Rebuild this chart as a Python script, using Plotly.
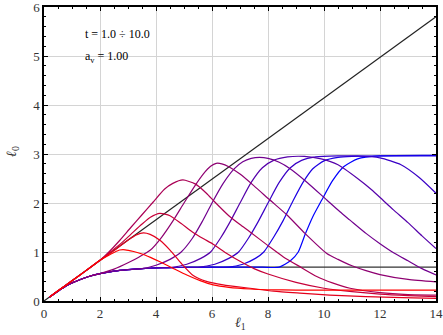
import plotly.graph_objects as go

# ---------------- data ----------------
t_labels = ["t=1", "t=2", "t=3", "t=4", "t=5", "t=6", "t=7", "t=8", "t=9", "t=10"]

# shared lower branch (t = 5..10 follow it before they jump)
lower_x = [0.2, 0.5, 0.8, 1.0, 1.3, 1.6, 2.0, 2.5, 3.0, 3.5, 4.0, 4.5, 5.0, 5.5, 6.0, 6.6, 7.0, 7.8, 8.4]
lower_y = [0.08, 0.20, 0.31, 0.37, 0.44, 0.50, 0.56, 0.61, 0.64, 0.66, 0.675, 0.682, 0.686, 0.688, 0.69, 0.69, 0.69, 0.69, 0.69]

# shared diagonal start (t = 1..4)
diag_x = [0.2, 0.5, 1.0, 1.5, 2.0]
diag_y = [0.083, 0.207, 0.414, 0.62, 0.83]

t1_x = [2.3, 2.5, 2.7, 2.9, 3.2, 3.5, 3.8, 4.14, 4.6, 5.1, 5.6, 6.04, 6.6, 7.36, 8.0, 9.0, 11.0, 14.0]
t1_y = [0.93, 0.99, 1.04, 1.045, 1.01, 0.96, 0.89, 0.80, 0.67, 0.53, 0.41, 0.33, 0.28, 0.245, 0.23, 0.222, 0.22, 0.22]

t2_x = [2.5, 2.8, 3.1, 3.3, 3.55, 3.79, 4.14, 4.5, 4.9, 5.33, 5.8, 6.4, 7.36, 8.2, 9.14, 10.2, 11.5, 12.8, 14.0]
t2_y = [1.03, 1.16, 1.28, 1.35, 1.39, 1.36, 1.24, 1.04, 0.77, 0.52, 0.40, 0.33, 0.26, 0.20, 0.16, 0.12, 0.09, 0.07, 0.055]

t3_x = [2.3, 2.7, 3.1, 3.5, 3.8, 4.14, 4.5, 4.9, 5.3, 5.7, 6.04, 6.5, 7.0, 7.5, 8.0, 9.0, 10.0, 11.0, 12.0, 13.0, 14.0]
t3_y = [0.97, 1.15, 1.36, 1.57, 1.71, 1.79, 1.74, 1.58, 1.41, 1.27, 1.16, 0.98, 0.81, 0.66, 0.55, 0.38, 0.26, 0.19, 0.14, 0.11, 0.09]

t4_x = [2.3, 2.71, 3.1, 3.5, 3.9, 4.3, 4.6, 4.96, 5.4, 5.8, 6.1, 6.6, 7.0, 7.36, 8.0, 8.55, 9.2, 9.74, 10.3, 10.93, 12.0, 13.0, 14.0]
t4_y = [0.99, 1.24, 1.50, 1.76, 2.02, 2.28, 2.40, 2.47, 2.39, 2.20, 2.02, 1.74, 1.56, 1.41, 1.13, 0.90, 0.68, 0.50, 0.37, 0.26, 0.17, 0.13, 0.12]

t5_x = [2.5, 3.0, 3.4, 3.8, 4.2, 4.6, 5.0, 5.4, 5.7, 5.95, 6.15, 6.35, 6.6, 7.0, 7.5, 8.07, 8.67, 9.32, 10.1, 10.5, 11.0, 11.5, 12.0, 13.0, 14.0]
t5_y = [0.65, 0.78, 0.90, 1.04, 1.30, 1.63, 2.00, 2.36, 2.60, 2.75, 2.81, 2.80, 2.74, 2.59, 2.35, 2.06, 1.76, 1.38, 0.97, 0.85, 0.72, 0.62, 0.54, 0.44, 0.39]

t6_x = [4.0, 4.5, 4.9, 5.3, 5.65, 6.0, 6.4, 6.8, 7.1, 7.4, 7.7, 8.0, 8.4, 8.79, 9.4, 10.1, 10.57, 10.93, 11.5, 12.0, 12.5, 13.0, 13.5, 14.0]
t6_y = [0.73, 0.85, 1.00, 1.28, 1.62, 2.00, 2.40, 2.70, 2.84, 2.91, 2.93, 2.91, 2.83, 2.70, 2.42, 2.06, 1.82, 1.65, 1.38, 1.17, 0.98, 0.82, 0.66, 0.53]

t7_x = [5.1, 5.6, 5.95, 6.3, 6.65, 7.0, 7.4, 7.8, 8.2, 8.7, 9.3, 9.9, 10.5, 11.2, 11.7, 12.1, 12.48, 13.0, 13.5, 14.0]
t7_y = [0.75, 0.87, 1.00, 1.28, 1.62, 2.00, 2.42, 2.72, 2.87, 2.94, 2.95, 2.90, 2.78, 2.50, 2.27, 2.06, 1.86, 1.60, 1.33, 1.07]

t8_x = [6.1, 6.6, 6.95, 7.3, 7.65, 8.0, 8.4, 8.8, 9.2, 9.7, 10.5, 11.2, 12.0, 12.75, 13.4, 14.0]
t8_y = [0.75, 0.87, 1.00, 1.28, 1.62, 2.00, 2.42, 2.72, 2.87, 2.94, 2.96, 2.96, 2.92, 2.78, 2.52, 2.20]

t9_x = [7.1, 7.55, 7.85, 8.2, 8.55, 8.9, 9.25, 9.6, 10.0, 10.5, 11.0, 12.0, 14.0]
t9_y = [0.75, 0.87, 1.00, 1.30, 1.65, 2.05, 2.42, 2.70, 2.86, 2.93, 2.95, 2.96, 2.96]

t10_x = [8.8, 9.08, 9.32, 9.6, 9.92, 10.3, 10.7, 11.2, 12.0, 14.0]
t10_y = [0.82, 1.00, 1.35, 1.72, 2.06, 2.45, 2.74, 2.90, 2.96, 2.97]

# reference lines
diag_line_x = [0.0, 14.0]
diag_line_y = [0.0, 5.8]
flat_line_x = [5.0, 14.0]
flat_line_y = [0.69, 0.69]

x_ticks = [0, 2, 4, 6, 8, 10, 12, 14]
y_ticks = [0, 1, 2, 3, 4, 5, 6]

# ---------------- figure ----------------
def blend(i, n=10):
    s = i / (n - 1)
    return "rgb(%d,%d,%d)" % (round(255 * (1 - s)), 0, round(255 * s))

def join_lower(xs, ys):
    bx = [v for v in lower_x if v < xs[0] - 0.3]
    by = lower_y[:len(bx)]
    return bx + xs, by + ys

def join_diag(xs, ys):
    return diag_x + xs, diag_y + ys

curves = [
    join_diag(t1_x, t1_y), join_diag(t2_x, t2_y), join_diag(t3_x, t3_y), join_diag(t4_x, t4_y),
    join_lower(t5_x, t5_y), join_lower(t6_x, t6_y), join_lower(t7_x, t7_y),
    join_lower(t8_x, t8_y), join_lower(t9_x, t9_y), join_lower(t10_x, t10_y),
]

fig = go.Figure()
fig.add_trace(go.Scatter(x=diag_line_x, y=diag_line_y, mode="lines",
                         line=dict(color="#222", width=1.2), showlegend=False, hoverinfo="skip"))
fig.add_trace(go.Scatter(x=flat_line_x, y=flat_line_y, mode="lines",
                         line=dict(color="#333", width=1.2), showlegend=False, hoverinfo="skip"))

# drawn from t=10 down to t=1 so the earlier (redder) curves sit on top
for i in reversed(range(len(curves))):
    cx, cy = curves[i]
    fig.add_trace(go.Scatter(x=cx, y=cy, mode="lines", name=t_labels[i],
                             line=dict(color=blend(i), width=1.2, shape="spline", smoothing=0.6),
                             showlegend=False))

serif = "Liberation Serif, Times New Roman, serif"
axis_common = dict(
    showline=True, linecolor="black", linewidth=1.5, mirror="ticks",
    ticks="inside", ticklen=4, tickwidth=1, tickcolor="black",
    showgrid=True, gridcolor="#d4d4d4", gridwidth=1, zeroline=False,
    tickfont=dict(family=serif, size=13, color="#333"), automargin=False,
    ticklabeloverflow="allow",
)

fig.update_xaxes(range=[0, 14], tickvals=x_ticks,
                 minor=dict(dtick=0.5, ticks="inside", ticklen=2.5, tickcolor="black", showgrid=False),
                 **axis_common)
fig.update_yaxes(range=[0, 6], tickvals=y_ticks,
                 minor=dict(dtick=0.2, ticks="inside", ticklen=2.5, tickcolor="black", showgrid=False),
                 **axis_common)

# axis titles
fig.add_annotation(x=0.5, y=-0.075, xref="paper", yref="paper", text="<i>ℓ</i><sub>1</sub>",
                   showarrow=False, xanchor="center", yanchor="middle",
                   font=dict(family=serif, size=14, color="#333"))
fig.add_annotation(x=-0.082, y=0.51, xref="paper", yref="paper", text="<i>ℓ</i><sub>0</sub>",
                   showarrow=False, xanchor="center", yanchor="middle", textangle=-90,
                   font=dict(family=serif, size=14, color="#333"))

fig.add_annotation(x=1.4, y=5.45, xref="x", yref="y", text="t = 1.0 ÷ 10.0", showarrow=False,
                   xanchor="left", yanchor="middle", font=dict(family=serif, size=12, color="black"))
fig.add_annotation(x=1.4, y=4.97, xref="x", yref="y", text="a<sub>v</sub> = 1.00", showarrow=False,
                   xanchor="left", yanchor="middle", font=dict(family=serif, size=12, color="black"))

fig.update_layout(width=443, height=335, margin=dict(l=44, r=7, t=7, b=34),
                  paper_bgcolor="white", plot_bgcolor="white")

fig.write_html("out.html", config={"displayModeBar": False},
               post_script="document.body.style.margin='0';document.body.style.overflow='hidden';")
